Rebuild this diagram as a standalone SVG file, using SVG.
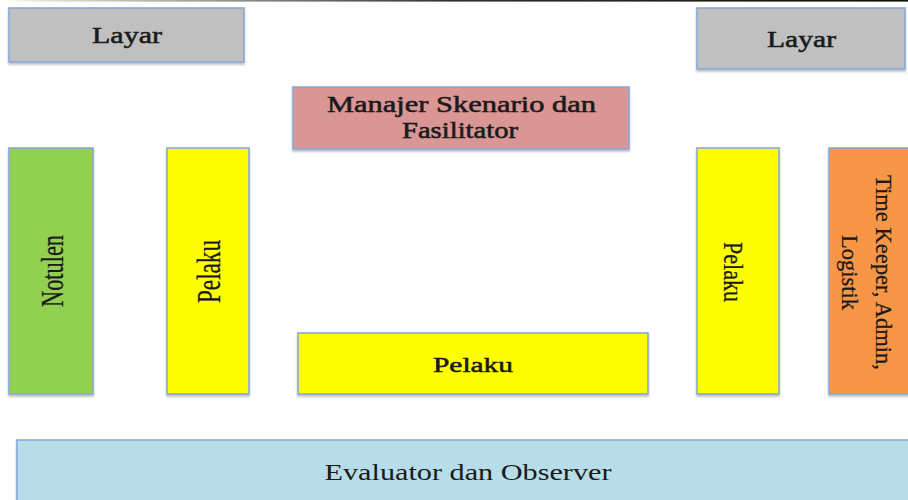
<svg xmlns="http://www.w3.org/2000/svg" width="908" height="500" viewBox="0 0 908 500">
<defs>
<linearGradient id="topline" x1="0" y1="0" x2="1" y2="0">
<stop offset="0" stop-color="#ffffff"/>
<stop offset="0.05" stop-color="#e0e0e0"/>
<stop offset="0.5" stop-color="#303030"/>
<stop offset="1" stop-color="#101010"/>
</linearGradient>
<filter id="sh" x="-5%" y="-5%" width="110%" height="115%">
<feDropShadow dx="0" dy="2" stdDeviation="1.2" flood-color="#000" flood-opacity="0.25"/>
</filter>
</defs>
<style>
.box{stroke:#8aa8d6;stroke-width:1.6;filter:url(#sh)}
.t{font-family:"Liberation Serif","Times New Roman",serif;fill:#1a1a1a;text-anchor:middle;stroke:#1a1a1a;stroke-width:0.3}
.h{stroke-width:0.55}
.n{stroke-width:0}
</style>
<rect x="0" y="0" width="908" height="500" fill="#ffffff"/>
<rect x="0" y="0" width="908" height="1.6" fill="url(#topline)"/>

<g id="layar-left">
<rect class="box" x="9" y="8" width="235" height="54" fill="#c0c0c0"/>
<text class="t h" x="127" y="43" font-size="24" textLength="70" lengthAdjust="spacingAndGlyphs">Layar</text>
</g>
<g id="layar-right">
<rect class="box" x="697" y="8" width="208" height="61" fill="#c0c0c0"/>
<text class="t h" x="801.5" y="47" font-size="24" textLength="69" lengthAdjust="spacingAndGlyphs">Layar</text>
</g>
<g id="manajer">
<rect class="box" x="293" y="87" width="336" height="62" fill="#d99694"/>
<text class="t h" x="461.5" y="112" font-size="23" textLength="269" lengthAdjust="spacingAndGlyphs">Manajer Skenario dan</text>
<text class="t h" x="460" y="138" font-size="23" textLength="116" lengthAdjust="spacingAndGlyphs">Fasilitator</text>
</g>
<g id="notulen">
<rect class="box" x="9" y="148" width="84" height="246" fill="#92d050"/>
<text class="t" transform="translate(63 271) rotate(-90)" x="0" y="0" font-size="31" textLength="72" lengthAdjust="spacingAndGlyphs">Notulen</text>
</g>
<g id="pelaku-left">
<rect class="box" x="167" y="148" width="82" height="246" fill="#ffff00"/>
<text class="t" transform="translate(220 271.5) rotate(-90)" x="0" y="0" font-size="33" textLength="63" lengthAdjust="spacingAndGlyphs">Pelaku</text>
</g>
<g id="pelaku-center">
<rect class="box" x="298" y="333" width="350" height="61" fill="#ffff00"/>
<text class="t h" x="473" y="372" font-size="22" textLength="80" lengthAdjust="spacingAndGlyphs">Pelaku</text>
</g>
<g id="pelaku-right">
<rect class="box" x="697" y="148" width="82" height="246" fill="#ffff00"/>
<text class="t" transform="translate(724 272) rotate(90)" x="0" y="0" font-size="27" textLength="60" lengthAdjust="spacingAndGlyphs">Pelaku</text>
</g>
<g id="timekeeper">
<rect class="box" x="829" y="148" width="82" height="246" fill="#f79646"/>
<text class="t" transform="translate(876 272.5) rotate(90)" x="0" y="0" font-size="24" textLength="195" lengthAdjust="spacingAndGlyphs">Time Keeper, Admin,</text>
<text class="t" transform="translate(842 272.5) rotate(90)" x="0" y="0" font-size="24" textLength="75" lengthAdjust="spacingAndGlyphs">Logistik</text>
</g>
<g id="evaluator">
<rect class="box" x="17" y="440" width="895" height="64" fill="#b7dde8"/>
<text class="t n" x="468" y="480" font-size="23" textLength="287" lengthAdjust="spacingAndGlyphs">Evaluator dan Observer</text>
</g>
<g id="connectors"></g>
</svg>
